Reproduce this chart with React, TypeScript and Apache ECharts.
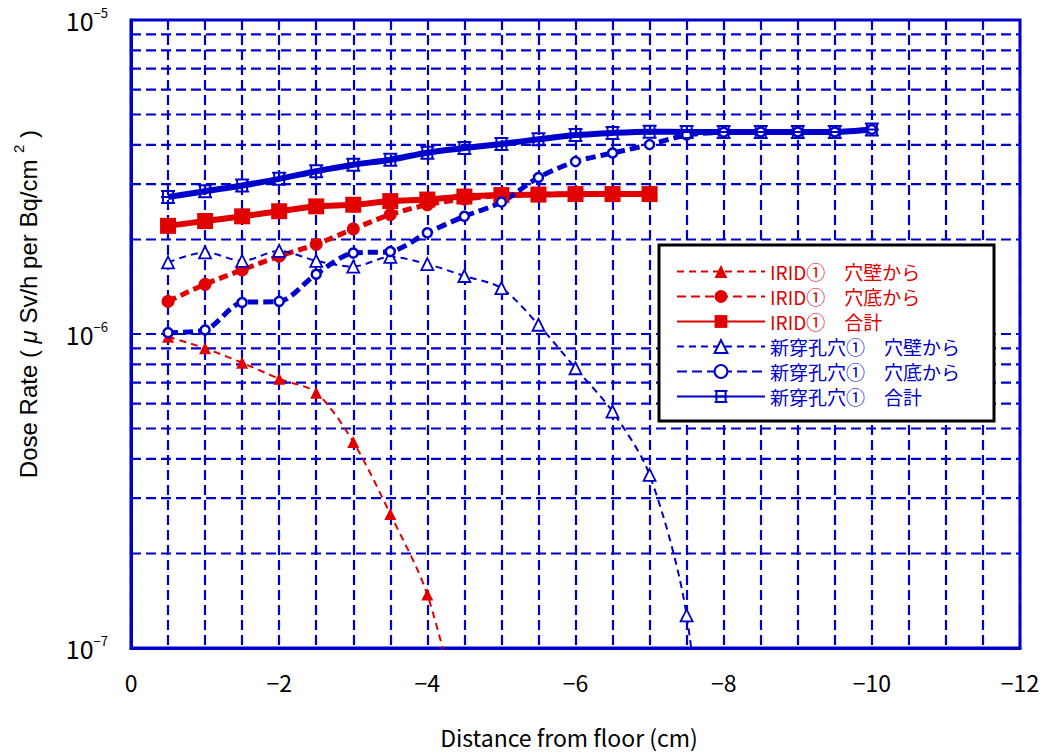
import React, { useEffect, useRef } from 'react';
import * as echarts from 'echarts';

// ---------- data ----------
const distances = [-0.5, -1, -1.5, -2, -2.5, -3, -3.5, -4, -4.5, -5, -5.5, -6, -6.5, -7, -7.5, -8, -8.5, -9, -9.5, -10];

const seriesNames = [
  'IRID①　穴壁から',
  'IRID①　穴底から',
  'IRID①　合計',
  '新穿孔穴①　穴壁から',
  '新穿孔穴①　穴底から',
  '新穿孔穴①　合計',
];

const iridWall = [0.98e-6, 0.9e-6, 0.81e-6, 0.72e-6, 0.65e-6, 0.453e-6, 0.267e-6, 0.148e-6, 0.052e-6];
const iridBottom = [1.27e-6, 1.44e-6, 1.6e-6, 1.77e-6, 1.93e-6, 2.16e-6, 2.4e-6, 2.58e-6, 2.69e-6, 2.76e-6, 2.78e-6, 2.79e-6, 2.79e-6, 2.79e-6];
const iridTotal = [2.21e-6, 2.29e-6, 2.37e-6, 2.46e-6, 2.55e-6, 2.58e-6, 2.65e-6, 2.68e-6, 2.74e-6, 2.77e-6, 2.78e-6, 2.79e-6, 2.79e-6, 2.79e-6];

const newWall = [1.69e-6, 1.82e-6, 1.71e-6, 1.84e-6, 1.71e-6, 1.64e-6, 1.76e-6, 1.67e-6, 1.53e-6, 1.4e-6, 1.07e-6, 0.778e-6, 0.566e-6, 0.356e-6, 0.127e-6, 0.01e-6];
const newBottom = [1.01e-6, 1.03e-6, 1.26e-6, 1.27e-6, 1.55e-6, 1.81e-6, 1.83e-6, 2.1e-6, 2.37e-6, 2.63e-6, 3.15e-6, 3.54e-6, 3.77e-6, 4.01e-6, 4.3e-6, 4.39e-6, 4.4e-6, 4.4e-6, 4.4e-6, 4.48e-6];
const newTotal = [2.73e-6, 2.85e-6, 2.97e-6, 3.12e-6, 3.3e-6, 3.46e-6, 3.59e-6, 3.78e-6, 3.91e-6, 4.03e-6, 4.17e-6, 4.3e-6, 4.37e-6, 4.41e-6, 4.4e-6, 4.4e-6, 4.4e-6, 4.4e-6, 4.4e-6, 4.48e-6];

const xTickValues = [0, -2, -4, -6, -8, -10, -12];
const xTickLabels = ['0', '−2', '−4', '−6', '−8', '−10', '−12'];
const yTickValues = [1e-7, 1e-6, 1e-5];
const yTickExponents = ['−7', '−6', '−5'];
const yMinorGrid = [2e-7, 3e-7, 4e-7, 5e-7, 6e-7, 7e-7, 8e-7, 9e-7, 2e-6, 3e-6, 4e-6, 5e-6, 6e-6, 7e-6, 8e-6, 9e-6];
const xRange = [0, -12];

const xAxisTitle = 'Distance from floor (cm)';

// ---------- style ----------
const BLUE = '#0000cc';
const RED = '#e00000';
const FONT = '"Noto Sans CJK JP", "Noto Sans", sans-serif';
const SANS = '"Liberation Sans", Arial, sans-serif';
const TOTAL_MARK = 'path://M0,1H14M0,7H14M0,13H14M2,0V14M12,0V14';

const pair = (vals: number[]) => vals.map((v, i) => [distances[i], v]);

export default function App() {
  const ref = useRef<HTMLDivElement>(null);

  useEffect(() => {
    const chart = echarts.init(ref.current!, null, { renderer: 'svg' });
    const gridDash = [10, 5];
    const gridWidth = 2.2;

    const gridSeries = yMinorGrid.map((v) => ({
      name: 'grid-' + v,
      type: 'line',
      data: [[xRange[0], v], [xRange[1], v]],
      silent: true,
      symbol: 'none',
      z: 1,
      lineStyle: { color: BLUE, width: gridWidth, type: gridDash },
      emphasis: { disabled: true },
      tooltip: { show: false },
    }));

    chart.setOption({
      animation: false,
      backgroundColor: '#ffffff',
      textStyle: { fontFamily: FONT },
      grid: {
        left: 131,
        right: 27,
        top: 20,
        bottom: 108,
        show: true,
        borderColor: BLUE,
        borderWidth: 3,
        backgroundColor: 'transparent',
      },
      xAxis: {
        type: 'value',
        min: -12,
        max: 0,
        interval: 0.5,
        inverse: true,
        axisLine: { show: true, onZero: false, lineStyle: { color: BLUE, width: 3 } },
        axisTick: { show: false },
        splitLine: { show: true, lineStyle: { color: BLUE, width: gridWidth, type: gridDash } },
        axisLabel: {
          color: '#000',
          fontSize: 23,
          fontFamily: FONT,
          margin: 22,
          showMinLabel: true,
          showMaxLabel: true,
          formatter: (v: number) => {
            const idx = xTickValues.findIndex((t) => Math.abs(t - v) < 1e-9);
            return idx >= 0 ? xTickLabels[idx] : '';
          },
        },
      },
      yAxis: {
        type: 'log',
        logBase: 10,
        min: 1e-7,
        max: 1e-5,
        axisLine: { show: true, onZero: false, lineStyle: { color: BLUE, width: 3 } },
        axisTick: { show: false },
        splitLine: { show: true, lineStyle: { color: BLUE, width: gridWidth, type: gridDash } },
        axisLabel: {
          margin: 23,
          color: '#000',
          formatter: (v: number) => {
            const idx = yTickValues.findIndex((t) => Math.abs(Math.log10(t) - Math.log10(v)) < 1e-6);
            return idx >= 0 ? `{b|10}{s|${yTickExponents[idx]}}` : '';
          },
          rich: {
            b: { fontSize: 25, lineHeight: 28, fontFamily: FONT, color: '#000' },
            s: { fontSize: 13, lineHeight: 14, fontFamily: FONT, color: '#000', verticalAlign: 'top' },
          },
        },
      },
      legend: {
        orient: 'vertical',
        left: 659,
        top: 245,
        data: seriesNames.map((n, i) => ({ name: n, textStyle: { color: i < 3 ? RED : BLUE } })),
        itemWidth: 88,
        itemHeight: 16,
        itemGap: 6,
        textStyle: { fontSize: 19, lineHeight: 19, fontFamily: FONT },
        backgroundColor: '#ffffff',
        borderColor: '#000',
        borderWidth: 3,
        padding: [17, 34, 15, 17],
        selectedMode: false,
      },
      graphic: [
        {
          type: 'text',
          x: 569,
          y: 737,
          style: {
            text: xAxisTitle,
            fontSize: 23,
            fontFamily: FONT,
            fill: '#000',
            align: 'center',
            verticalAlign: 'middle',
          },
        },
        {
          type: 'text',
          x: 28,
          y: 304,
          rotation: Math.PI / 2,
          style: {
            text: 'Dose Rate ( {mu|μ} Sv/h per Bq/cm {sup|2} )',
            fontSize: 24,
            lineHeight: 34,
            fontFamily: SANS,
            fill: '#000',
            align: 'center',
            verticalAlign: 'middle',
            rich: {
              mu: { fontSize: 24, lineHeight: 34, fontStyle: 'italic', fontFamily: SANS, fill: '#000' },
              sup: { fontSize: 15, lineHeight: 15, fontFamily: SANS, fill: '#000', verticalAlign: 'top' },
            },
          },
        },
      ],
      series: [
        ...gridSeries,
        {
          name: seriesNames[0],
          type: 'line',
          z: 3,
          data: pair(iridWall),
          smooth: 0.3,
          symbol: 'triangle',
          symbolSize: 12,
          itemStyle: { color: RED },
          lineStyle: { color: RED, width: 2, type: [7, 5] },
        },
        {
          name: seriesNames[1],
          type: 'line',
          z: 3,
          data: pair(iridBottom),
          smooth: 0.3,
          symbol: 'circle',
          symbolSize: 13,
          itemStyle: { color: RED },
          lineStyle: { color: RED, width: 5, type: [9, 5] },
        },
        {
          name: seriesNames[2],
          type: 'line',
          z: 3,
          data: pair(iridTotal),
          smooth: 0.3,
          symbol: 'rect',
          symbolSize: 16,
          itemStyle: { color: RED },
          lineStyle: { color: RED, width: 6 },
        },
        {
          name: seriesNames[3],
          type: 'line',
          z: 3,
          data: pair(newWall),
          smooth: 0.3,
          symbol: 'triangle',
          symbolSize: 12,
          itemStyle: { color: '#ffffff', borderColor: BLUE, borderWidth: 1.8 },
          lineStyle: { color: BLUE, width: 2, type: [7, 5] },
        },
        {
          name: seriesNames[4],
          type: 'line',
          z: 3,
          data: pair(newBottom),
          smooth: 0.3,
          symbol: 'circle',
          symbolSize: 9,
          itemStyle: { color: '#ffffff', borderColor: BLUE, borderWidth: 2.5 },
          lineStyle: { color: BLUE, width: 5, type: [10, 5] },
        },
        {
          name: seriesNames[5],
          type: 'line',
          z: 3,
          data: pair(newTotal),
          smooth: 0.3,
          symbol: TOTAL_MARK,
          symbolSize: 14,
          itemStyle: { color: BLUE, borderColor: BLUE, borderWidth: 2 },
          lineStyle: { color: BLUE, width: 6 },
        },
      ],
    });

    return () => chart.dispose();
  }, []);

  return (
    <div
      ref={ref}
      style={{ position: 'fixed', left: 0, top: 0, width: 1047, height: 756, background: '#fff' }}
    />
  );
}
